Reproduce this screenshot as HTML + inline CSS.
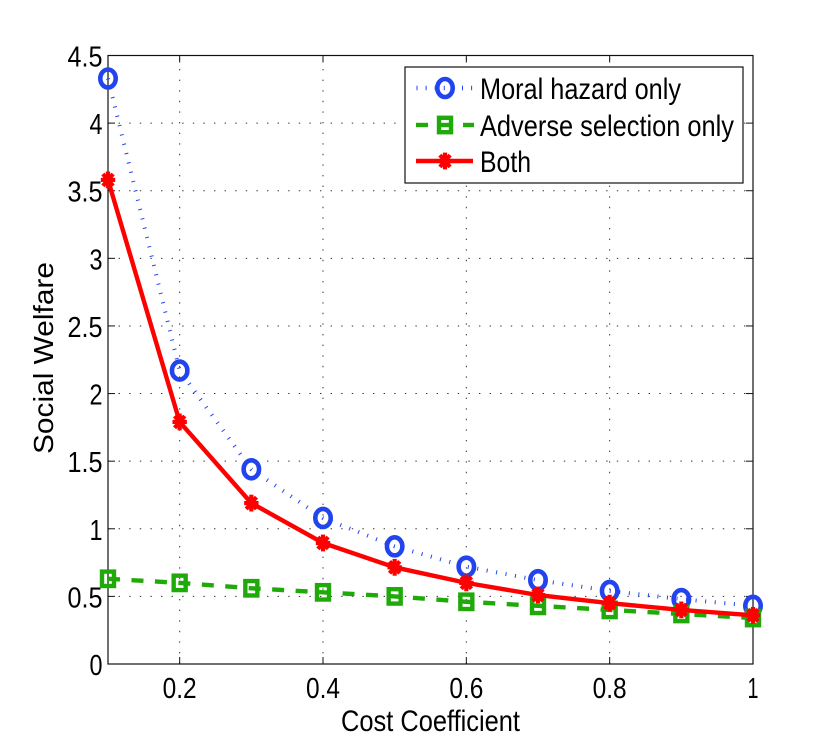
<!DOCTYPE html>
<html lang="en">
<head>
<meta charset="utf-8">
<title>Social Welfare vs Cost Coefficient</title>
<style>
html,body{margin:0;padding:0;background:#fff;}
svg{display:block;}
text{font-family:"Liberation Sans",sans-serif;fill:#000;}
</style>
</head>
<body>
<svg id="chart" width="830" height="747" viewBox="0 0 830 747" xmlns="http://www.w3.org/2000/svg"></svg>
<script>
const costCoefficient = [0.1, 0.2, 0.3, 0.4, 0.5, 0.6, 0.7, 0.8, 0.9, 1];
const moralHazardOnly = [4.33, 2.17, 1.44, 1.08, 0.87, 0.72, 0.62, 0.54, 0.48, 0.43];
const adverseSelectionOnly = [0.63, 0.6, 0.56, 0.53, 0.5, 0.46, 0.43, 0.4, 0.37, 0.34];
const bothProblems = [3.58, 1.79, 1.19, 0.895, 0.715, 0.6, 0.51, 0.45, 0.4, 0.36];
const xTicks = [0.2, 0.4, 0.6, 0.8, 1];
const yTicks = [0, 0.5, 1, 1.5, 2, 2.5, 3, 3.5, 4, 4.5];

const NS = 'http://www.w3.org/2000/svg';
const svg = document.getElementById('chart');
const plot = { left: 108, right: 753, top: 55.5, bottom: 664 };
const xMin = 0.1, xMax = 1, yMin = 0, yMax = 4.5;
const BLUE = '#2244ee', GREEN = '#1faa0a', RED = '#ff0000';

function xScale(v) { return plot.left + (v - xMin) / (xMax - xMin) * (plot.right - plot.left); }
function yScale(v) { return plot.bottom - (v - yMin) / (yMax - yMin) * (plot.bottom - plot.top); }

function mk(tag, attrs, parent) {
  const el = document.createElementNS(NS, tag);
  for (const k in attrs) el.setAttribute(k, attrs[k]);
  (parent || svg).appendChild(el);
  return el;
}
function group(parent) { return mk('g', {}, parent); }

function drawCircle(parent, cx, cy) {
  const el = mk('ellipse', { cx: cx, cy: cy, rx: 7.7, ry: 9, fill: 'none', stroke: BLUE, 'stroke-width': 4.6 }, parent);
  
  
}
function drawSquare(parent, cx, cy) {
  const el = mk('rect', { x: cx - 6, y: cy - 7.2, width: 12, height: 14.4, fill: 'none', stroke: GREEN, 'stroke-width': 4.4 }, parent);
  
  
}
function drawStar(parent, cx, cy) {
  const g = group(parent);
  
  
  for (let a = 0; a < 4; a++) {
    const t = a * Math.PI / 4;
    const dx = 7.2 * Math.cos(t), dy = 8.4 * Math.sin(t);
    mk('line', { x1: cx - dx, y1: cy - dy, x2: cx + dx, y2: cy + dy, stroke: RED, 'stroke-width': 4.2 }, g);
  }
}
function label(parent, str, x, y, size, len, anchor) {
  const t = mk('text', { x: x, y: y, 'font-size': size, textLength: len, lengthAdjust: 'spacingAndGlyphs', 'text-anchor': anchor || 'start' }, parent);
  t.textContent = str;
  return t;
}

/* background */
const bg = mk('rect', { x: plot.left, y: plot.top, width: plot.right - plot.left, height: plot.bottom - plot.top, fill: '#fff' });



/* grid */
const gridG = group();


xTicks.forEach(function (v) {
  if (v === xMax) return;
  const x = xScale(v);
  const gl = mk('line', { x1: x, y1: plot.bottom, x2: x, y2: plot.top, stroke: '#333', 'stroke-width': 1, 'stroke-dasharray': '1.4 9.2' }, gridG);
  
  
});
yTicks.forEach(function (v) {
  if (v === yMin || v === yMax) return;
  const y = yScale(v);
  const gl = mk('line', { x1: plot.left, y1: y, x2: plot.right, y2: y, stroke: '#333', 'stroke-width': 1, 'stroke-dasharray': '1.4 9.2' }, gridG);
  
  
});

/* axes frame and ticks */
const frame = mk('rect', { x: plot.left, y: plot.top, width: plot.right - plot.left, height: plot.bottom - plot.top, fill: 'none', stroke: '#111', 'stroke-width': 1.2 });



const xTickG = group();


xTicks.forEach(function (v) {
  const x = xScale(v);
  mk('line', { x1: x, y1: plot.bottom, x2: x, y2: plot.bottom - 7, stroke: '#111', 'stroke-width': 1 }, xTickG);
  mk('line', { x1: x, y1: plot.top, x2: x, y2: plot.top + 7, stroke: '#111', 'stroke-width': 1 }, xTickG);
  const s = String(v);
  const t = label(xTickG, s, x, 698, 29, s.length > 1 ? 34 : 11, 'middle');
  
  
});

const yTickG = group();


yTicks.forEach(function (v) {
  const y = yScale(v);
  mk('line', { x1: plot.left, y1: y, x2: plot.left + 7, y2: y, stroke: '#111', 'stroke-width': 1 }, yTickG);
  mk('line', { x1: plot.right, y1: y, x2: plot.right - 7, y2: y, stroke: '#111', 'stroke-width': 1 }, yTickG);
  const s = String(v);
  const t = label(yTickG, s, 102.5, y + 11, 29, s.length > 1 ? 35 : 13, 'end');
  
  
});

/* series */
function points(values) {
  return values.map(function (v, i) { return xScale(costCoefficient[i]) + ',' + yScale(v); }).join(' ');
}
const moralG = group();


mk('polyline', { points: points(moralHazardOnly), fill: 'none', stroke: BLUE, 'stroke-width': 4, 'stroke-dasharray': '1 8.6' }, moralG);
moralHazardOnly.forEach(function (v, i) { drawCircle(moralG, xScale(costCoefficient[i]), yScale(v)); });

const adverseG = group();


mk('polyline', { points: points(adverseSelectionOnly), fill: 'none', stroke: GREEN, 'stroke-width': 4.4, 'stroke-dasharray': '12 11.5' }, adverseG);
adverseSelectionOnly.forEach(function (v, i) { drawSquare(adverseG, xScale(costCoefficient[i]), yScale(v)); });

const bothG = group();


mk('polyline', { points: points(bothProblems), fill: 'none', stroke: RED, 'stroke-width': 4.4 }, bothG);
bothProblems.forEach(function (v, i) { drawStar(bothG, xScale(costCoefficient[i]), yScale(v)); });

/* axis titles */
const xTitle = label(svg, 'Cost Coefficient', 341, 731, 30, 179);


const yTitle = mk('text', { transform: 'translate(53,454) rotate(-90)', 'font-size': 28, textLength: 192, lengthAdjust: 'spacingAndGlyphs' });
yTitle.textContent = 'Social Welfare';



/* legend */
const legend = group();


mk('rect', { x: 405, y: 67, width: 338, height: 116, fill: '#fff', stroke: '#111', 'stroke-width': 1.2 }, legend);

const e1 = group(legend);


mk('line', { x1: 416.5, y1: 88, x2: 473, y2: 88, stroke: BLUE, 'stroke-width': 4.5, 'stroke-dasharray': '1 8.1' }, e1);
drawCircle(e1, 445, 88);
label(e1, 'Moral hazard only', 480, 99, 30, 201);

const e2 = group(legend);


mk('line', { x1: 416, y1: 125, x2: 428, y2: 125, stroke: GREEN, 'stroke-width': 4.4 }, e2);
mk('line', { x1: 439, y1: 125, x2: 451, y2: 125, stroke: GREEN, 'stroke-width': 4.4 }, e2);
mk('line', { x1: 463, y1: 125, x2: 474, y2: 125, stroke: GREEN, 'stroke-width': 4.4 }, e2);
drawSquare(e2, 445, 125);
label(e2, 'Adverse selection only', 480, 136, 30, 254);

const e3 = group(legend);


mk('line', { x1: 416, y1: 161, x2: 473, y2: 161, stroke: RED, 'stroke-width': 4.4 }, e3);
drawStar(e3, 445, 161);
label(e3, 'Both', 480, 172, 30, 51);
</script>
</body>
</html>
